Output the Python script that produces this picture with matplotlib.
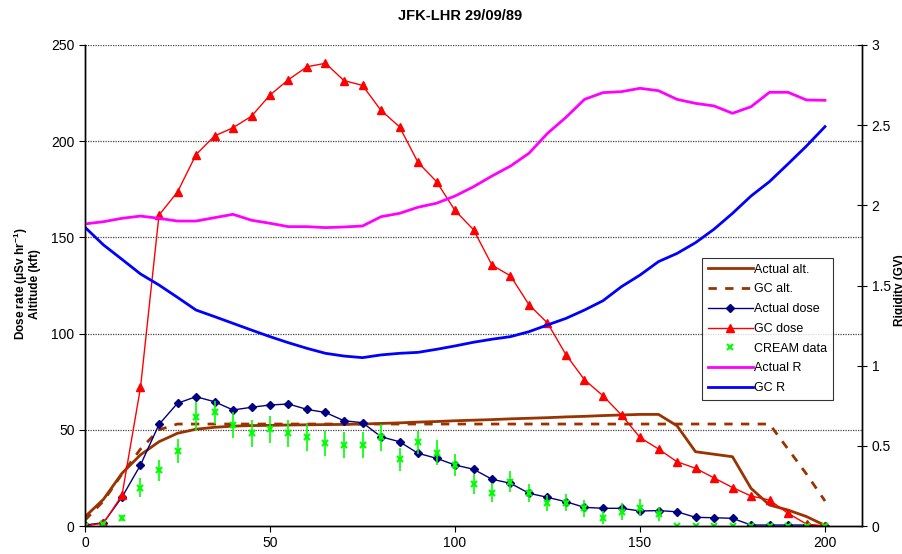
import matplotlib
matplotlib.use("Agg")
import matplotlib.pyplot as plt
import numpy as np

plt.rcParams['font.family'] = ['Liberation Sans', 'DejaVu Sans']
plt.rcParams['mathtext.fontset'] = 'custom'
plt.rcParams['mathtext.rm'] = 'Liberation Sans'
plt.rcParams['mathtext.bf'] = 'Liberation Sans:bold'

# flight time axis (minutes, every 5)
time = np.arange(0, 201, 5)

actual_alt = [4.8, 13.9, 27.4, 37, 43.8, 48.2, 50.3, 51.3, 51.9, 52.2, 52.3,
              52.5, 52.6, 52.7, 52.8, 53.0, 53.3, 53.6, 54.0, 54.3, 54.7,
              55.0, 55.3, 55.7, 56.0, 56.3, 56.7, 57.0, 57.4, 57.7, 58.0,
              58.0, 52.1, 38.6, 37.3, 36.0, 19.6, 10.9, 8.3, 4.9, 0.3]
gc_alt = [3, 13, 27, 40, 50, 53, 53, 53, 53, 53, 53, 53, 53, 53, 53, 53, 53,
          53, 53, 53, 53, 53, 53, 53, 53, 53, 53, 53, 53, 53, 53, 53, 53, 53,
          53, 53, 53, 53, 40, 27, 13]
actual_dose = [0.5, 1.7, 15, 31.7, 52.8, 63.8, 67.2, 64.6, 60.3, 61.7, 62.9,
               63.4, 60.6, 59, 54.7, 53.7, 46.4, 43.8, 37.8, 35.2, 31.7, 29.5,
               24.3, 22.2, 17, 14.9, 12.6, 9.7, 9.2, 9.2, 7.8, 8, 7.4, 4.5,
               4.3, 4, 0.5, 0.5, 0.5, 0.5, 0]
gc_dose = [0, 1.5, 16, 72, 161.6, 173.6, 193, 202.7, 207, 213, 224, 232,
           238.7, 240.5, 231.5, 229, 216, 207.5, 189, 179, 164, 154, 135.6,
           130, 115, 105.5, 89, 76, 67.7, 57.7, 46, 40, 33.4, 30, 25, 20,
           15.6, 13.5, 6.6, 1, 0]
cream = [0.2, 1, 4.3, 20, 29, 39, 56.8, 59, 52.5, 48.2, 50.2, 48.2, 46, 43,
         42, 42, 46, 34.6, 43.5, 38, 31.7, 22, 17.3, 23, 17, 11.8, 12.1, 9.2,
         4.3, 7.4, 9.5, 6.2, 0.2, 0.2, 0.2, 0.2, 0.2, 0.2, 0.2, 0.2, 0.2]
cream_err = [0.5, 0.5, 1.5, 4.8, 5.5, 6.2, 7.5, 6.1, 6.8, 6.9, 6.9, 6.9, 6.9,
             6.6, 6.7, 6.7, 6.9, 5.8, 6.1, 6.5, 5.9, 5.2, 4.9, 5.5, 4.6, 4.1,
             4.4, 4.3, 3.5, 4.3, 4.5, 3.6, 0, 0, 0, 0, 0, 0, 0, 0, 0]
actual_r = [1.884, 1.898, 1.919, 1.933, 1.919, 1.902, 1.902, 1.923, 1.944,
            1.907, 1.888, 1.867, 1.867, 1.861, 1.865, 1.871, 1.929, 1.950,
            1.988, 2.013, 2.058, 2.116, 2.183, 2.245, 2.325, 2.449, 2.549,
            2.661, 2.703, 2.709, 2.730, 2.715, 2.661, 2.636, 2.62, 2.574,
            2.615, 2.705, 2.705, 2.657, 2.655]
gc_r = [1.863, 1.753, 1.663, 1.572, 1.503, 1.426, 1.347, 1.306, 1.264, 1.222,
        1.181, 1.143, 1.108, 1.077, 1.06, 1.05, 1.067, 1.077, 1.083, 1.102,
        1.123, 1.146, 1.165, 1.181, 1.212, 1.254, 1.295, 1.347, 1.405, 1.493,
        1.565, 1.649, 1.70, 1.767, 1.851, 1.950, 2.058, 2.148, 2.258, 2.37,
        2.491]

brown = '#993300'

fig = plt.figure(figsize=(9.03, 5.54), dpi=100)
ax = fig.add_axes([85 / 903, 1 - 526 / 554, 777 / 903, 481 / 554])
ax2 = ax.twinx()

for yv in [50, 100, 150, 200, 250]:
    ax.axhline(yv, color='#444444', lw=0.9, ls=(0, (1, 1)), zorder=0)

l1, = ax.plot(time, actual_alt, color=brown, lw=2, label='Actual alt.')
l2, = ax.plot(time, gc_alt, color=brown, lw=2, ls=(0, (3, 3)), label='GC alt.')
l3, = ax.plot(time, actual_dose, color='#000080', lw=1, marker='D', ms=4.5,
              label='Actual dose')
l4, = ax.plot(time, gc_dose, color='#FF0000', lw=1, marker='^', ms=6,
              label='GC dose')
ax.errorbar(time, cream, yerr=cream_err, fmt='none', ecolor='#00FF00',
            elinewidth=1.2, capsize=0)
l5, = ax.plot(time, cream, ls='none', marker='x', color='#00FF00', ms=5,
              mew=1.5, label='CREAM data')
l6, = ax2.plot(time, actual_r, color='#FF00FF', lw=2, label='Actual R')
l7, = ax2.plot(time, gc_r, color='#0000FF', lw=2, label='GC R')

ax.set_xlim(0, 210)
ax.set_ylim(0, 250)
ax2.set_ylim(0, 3)
ax.set_xticks([0, 50, 100, 150, 200])
ax.set_yticks([0, 50, 100, 150, 200, 250])
ax2.set_yticks([0, 0.5, 1, 1.5, 2, 2.5, 3])
ax2.set_yticklabels(['0', '0.5', '1', '1.5', '2', '2.5', '3'])

for a in (ax, ax2):
    a.spines['top'].set_visible(False)
    for s in a.spines.values():
        s.set_linewidth(1)
ax.tick_params(axis='both', labelsize=10, direction='out', length=4, width=0.8)
ax2.tick_params(axis='y', labelsize=10, direction='inout', length=7, width=0.8)

fig.text(0.023, (554 - 284) / 554, 'Dose rate ($\\mathbf{\\mu}$Sv hr$^{\\mathbf{-1}}$)',
         rotation=90, ha='center', va='center', fontsize=8.5, fontweight='bold')
fig.text(0.039, (554 - 284) / 554, 'Altitude (kft)', rotation=90,
         ha='center', va='center', fontsize=8.5, fontweight='bold')
fig.text(0.997, (554 - 290) / 554, 'Rigidity (GV)', rotation=90,
         ha='center', va='center', fontsize=8.5, fontweight='bold')
fig.text(460 / 903, 1 - 16 / 554, 'JFK-LHR 29/09/89', ha='center',
         va='center', fontsize=10.5, fontweight='bold')

leg = ax2.legend(handles=[l1, l2, l3, l4, l5, l6, l7], loc='upper left',
                 bbox_to_anchor=(0.794, 0.557), fontsize=9, frameon=True,
                 fancybox=False, edgecolor='black', handlelength=3.6,
                 labelspacing=0.62, borderpad=0.45, handletextpad=0.1,
                 borderaxespad=0)
leg.get_frame().set_linewidth(0.8)

fig.savefig('out.png', dpi=100)
